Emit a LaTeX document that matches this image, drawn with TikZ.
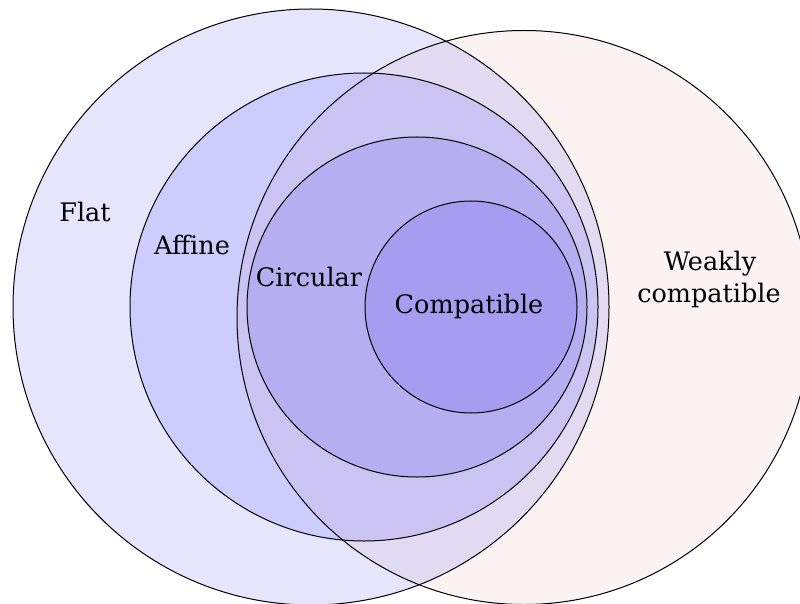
\documentclass[tikz,border=0pt]{standalone}
\usepackage{fontspec}
\setmainfont{DejaVu Serif}
\definecolor{flatc}{RGB}{229,229,252}
\definecolor{weakc}{RGB}{251,243,242}
\definecolor{fwc}{RGB}{226,218,240}
\definecolor{affc}{RGB}{205,205,253}
\definecolor{awc}{RGB}{203,195,242}
\definecolor{circc}{RGB}{181,174,240}
\definecolor{compc}{RGB}{166,156,240}
\tikzset{
  ring/.style={draw=black, line width=1pt},
  lbl/.style={font=\fontsize{25.5}{31}\selectfont, inner sep=0pt, text=black}
}
\begin{document}
\begin{tikzpicture}[x=1pt,y=-1pt]
\useasboundingbox (0,0) rectangle (800,604);
\clip (0,0) rectangle (800,604);
% fills
\fill[flatc] (311,307) circle (298);
\fill[weakc] (524,317.5) circle (287);
\begin{scope}
  \clip (311,307) circle (298);
  \fill[fwc] (524,317.5) circle (287);
\end{scope}
\fill[affc] (364,307) circle (234);
\begin{scope}
  \clip (364,307) circle (234);
  \fill[awc] (524,317.5) circle (287);
\end{scope}
\fill[circc] (417,307) circle (170);
\fill[compc] (471,307) circle (106);
% outlines
\draw[ring] (311,307) circle (298);
\draw[ring] (524,317.5) circle (287);
\draw[ring] (364,307) circle (234);
\draw[ring] (417,307) circle (170);
\draw[ring] (471,307) circle (106);
% labels
\node[lbl, anchor=base] (flat) at (85,222) {Flat};
\node[lbl, anchor=base] (affine) at (192,254) {Affine};
\node[lbl, anchor=base] (circular) at (309,286) {Circular};
\node[lbl, anchor=base] (compatible) at (469,313) {Compatible};
\node[lbl, anchor=base] (weakly) at (710,270) {Weakly};
\node[lbl, anchor=base] (weakly2) at (709,302) {compatible};
\end{tikzpicture}
\end{document}
